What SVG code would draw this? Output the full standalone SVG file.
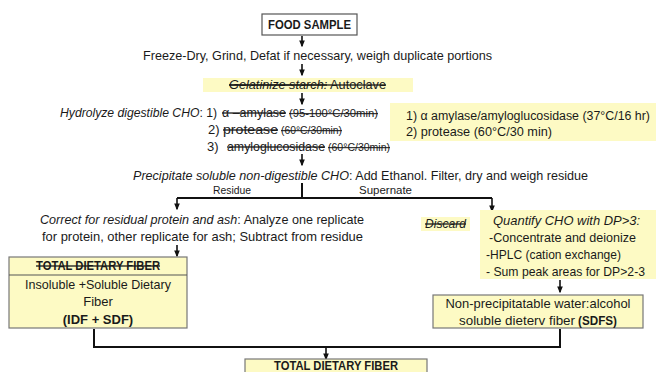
<svg xmlns="http://www.w3.org/2000/svg" width="656" height="372" viewBox="0 0 656 372">
<defs>
<style>
text{font-family:"Liberation Sans",Arial,sans-serif;font-size:13px;fill:#1a1a1a}
.b{font-weight:bold}
.i{font-style:italic}
.s{text-decoration:line-through}
.sm{font-size:10.5px}
.lbl{font-size:11px}
.box{fill:#fff;stroke:#555;stroke-width:1.2}
.ybox{fill:#fdfac4;stroke:#777;stroke-width:1.2}
.hl{fill:#fdfac4;stroke:none}
.ar{stroke:#111;stroke-width:1.6;fill:none}
.cn{stroke:#111;stroke-width:2;fill:none}
</style>
<marker id="m" viewBox="0 0 10 10" refX="8" refY="5" markerWidth="7" markerHeight="7" orient="auto" markerUnits="userSpaceOnUse">
<path d="M0,1 L10,5 L0,9 z" fill="#111"/>
</marker>
</defs>
<rect width="656" height="372" fill="#fff"/>

<g id="connectors">
<line class="ar" x1="302" y1="36" x2="302" y2="46" marker-end="url(#m)"/>
<line class="ar" x1="302" y1="64" x2="302" y2="75" marker-end="url(#m)"/>
<line class="ar" x1="302" y1="93" x2="302" y2="104" marker-end="url(#m)"/>
<line class="ar" x1="302" y1="154" x2="302" y2="165" marker-end="url(#m)"/>
<polyline class="cn" points="302,183 302,198"/>
<polyline class="cn" points="177,198 492,198"/>
<line class="ar" x1="177" y1="198" x2="177" y2="209" marker-end="url(#m)"/>
<line class="ar" x1="492" y1="198" x2="492" y2="211" marker-end="url(#m)"/>
<line class="ar" x1="177" y1="245" x2="177" y2="256" marker-end="url(#m)"/>
<line class="ar" x1="560" y1="280" x2="560" y2="292" marker-end="url(#m)"/>
<polyline class="cn" points="94,329 94,347 560,347 560,329"/>
<line class="ar" x1="326" y1="347" x2="326" y2="359" marker-end="url(#m)"/>
</g>

<g id="food-sample">
<rect class="box" x="262" y="14" width="95" height="21"/>
<text class="b" x="309.5" y="29" text-anchor="middle" textLength="83" lengthAdjust="spacingAndGlyphs">FOOD SAMPLE</text>
</g>

<g id="freeze-dry">
<text x="143" y="60" textLength="349" lengthAdjust="spacingAndGlyphs">Freeze-Dry, Grind, Defat if necessary, weigh duplicate portions</text>
</g>

<g id="gelatinize">
<rect class="hl" x="203" y="78" width="210" height="14"/>
<text class="s" x="229" y="89" textLength="157" lengthAdjust="spacingAndGlyphs"><tspan class="i s">Gelatinize starch:</tspan> Autoclave</text>
</g>

<g id="hydrolyze">
<text x="60" y="117" style="font-size:12px" textLength="157" lengthAdjust="spacingAndGlyphs"><tspan class="i">Hydrolyze digestible CHO</tspan>: 1)</text>
<text class="s" x="222" y="117" textLength="64" lengthAdjust="spacingAndGlyphs">α –amylase</text>
<text class="sm s" x="289" y="117" textLength="89" lengthAdjust="spacingAndGlyphs">(95-100°C/30min)</text>
<text x="208" y="134">2)</text>
<text class="s" x="223" y="134" textLength="55" lengthAdjust="spacingAndGlyphs">protease</text>
<text class="sm s" x="281" y="134" textLength="61" lengthAdjust="spacingAndGlyphs">(60°C/30min)</text>
<text x="207" y="151">3)</text>
<text class="s" x="227" y="151" textLength="98" lengthAdjust="spacingAndGlyphs">amyloglucosidase</text>
<text class="sm s" x="328" y="151" textLength="62" lengthAdjust="spacingAndGlyphs">(60°C/30min)</text>
</g>

<g id="new-enzymes">
<rect class="hl" x="390" y="103" width="266" height="38"/>
<text x="406" y="120" style="font-size:12.3px" textLength="244" lengthAdjust="spacingAndGlyphs">1) α amylase/amyloglucosidase (37°C/16 hr)</text>
<text x="406" y="136" textLength="146" lengthAdjust="spacingAndGlyphs">2) protease (60°C/30 min)</text>
</g>

<g id="precipitate">
<text x="133" y="180" textLength="455" lengthAdjust="spacingAndGlyphs"><tspan class="i">Precipitate soluble non-digestible CHO</tspan>: Add Ethanol. Filter, dry and weigh residue</text>
<text class="lbl" x="213" y="194" textLength="38" lengthAdjust="spacingAndGlyphs">Residue</text>
<text class="lbl" x="359" y="194" textLength="53" lengthAdjust="spacingAndGlyphs">Supernate</text>
</g>

<g id="correct">
<text x="40" y="224" textLength="324" lengthAdjust="spacingAndGlyphs"><tspan class="i">Correct for residual protein and ash</tspan>: Analyze one replicate</text>
<text x="42" y="241" textLength="321" lengthAdjust="spacingAndGlyphs">for protein, other replicate for ash; Subtract from residue</text>
</g>

<g id="discard">
<rect class="hl" x="421" y="217" width="49" height="14"/>
<text class="i s" x="425" y="228" textLength="41" lengthAdjust="spacingAndGlyphs">Discard</text>
</g>

<g id="quantify">
<rect class="hl" x="480" y="210" width="176" height="69"/>
<text class="i" x="493" y="225" textLength="147" lengthAdjust="spacingAndGlyphs">Quantify CHO with DP&gt;3:</text>
<text x="489" y="242" textLength="147" lengthAdjust="spacingAndGlyphs">-Concentrate and deionize</text>
<text x="486" y="259" textLength="135" lengthAdjust="spacingAndGlyphs">-HPLC (cation exchange)</text>
<text x="486" y="276" textLength="159" lengthAdjust="spacingAndGlyphs">- Sum peak areas for DP&gt;2-3</text>
</g>

<g id="sdfs">
<rect class="ybox" x="433" y="295" width="210" height="33"/>
<text x="538" y="308" text-anchor="middle" textLength="185" lengthAdjust="spacingAndGlyphs">Non-precipitatable water:alcohol</text>
<text x="459" y="325" textLength="116" lengthAdjust="spacingAndGlyphs">soluble dieterv fiber</text>
<text class="b" x="578" y="325" textLength="39" lengthAdjust="spacingAndGlyphs">(SDFS)</text>
</g>

<g id="idf-sdf">
<rect class="ybox" x="9" y="257" width="178" height="71"/>
<line x1="9" y1="275" x2="187" y2="275" stroke="#555" stroke-width="1.2"/>
<text class="b s" x="98" y="270" text-anchor="middle" textLength="124" lengthAdjust="spacingAndGlyphs">TOTAL DIETARY FIBER</text>
<text x="98" y="289" text-anchor="middle" textLength="146" lengthAdjust="spacingAndGlyphs">Insoluble +Soluble Dietary</text>
<text x="98" y="306" text-anchor="middle">Fiber</text>
<text class="b" x="98" y="324" text-anchor="middle">(IDF + SDF)</text>
</g>

<g id="total-dietary-fiber">
<rect class="ybox" x="245" y="359" width="182" height="20"/>
<text class="b" x="336" y="370" text-anchor="middle" textLength="124" lengthAdjust="spacingAndGlyphs">TOTAL DIETARY FIBER</text>
</g>
</svg>
